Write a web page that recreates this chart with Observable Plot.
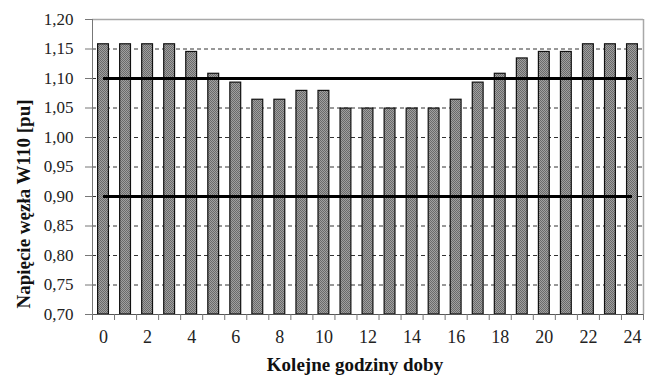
<!DOCTYPE html>
<html>
<head>
<meta charset="utf-8">
<script src="https://cdn.jsdelivr.net/npm/d3@7"></script>
<script src="https://cdn.jsdelivr.net/npm/@observablehq/plot@0.6"></script>
<style>
  html, body { margin: 0; padding: 0; background: #fff; }
  svg { display: block; }
</style>
</head>
<body>
<div id="chart"></div>
<script>
const hours = [0,1,2,3,4,5,6,7,8,9,10,11,12,13,14,15,16,17,18,19,20,21,22,23,24];
const voltage = [1.158,1.158,1.158,1.158,1.145,1.108,1.093,1.064,1.064,1.079,1.079,1.049,1.049,1.049,1.049,1.049,1.064,1.093,1.108,1.134,1.145,1.145,1.158,1.158,1.158];
const limits = [1.10, 0.90];
const yTicks = [0.70,0.75,0.80,0.85,0.90,0.95,1.00,1.05,1.10,1.15,1.20];
const xLabelTicks = [0,2,4,6,8,10,12,14,16,18,20,22,24];
const yTitle = "Napięcie węzła W110 [pu]";
const xTitle = "Kolejne godziny doby";

const data = hours.map((h, i) => ({h, v: voltage[i]}));
const boundaries = hours.map(h => h - 0.5).concat([hours[hours.length - 1] + 0.5]);
const xMin = boundaries[0], xMax = boundaries[boundaries.length - 1];
const yMin = yTicks[0], yMax = yTicks[yTicks.length - 1];
const fmt = d => d.toFixed(2).replace(".", ",");
const serif = "'Liberation Serif', 'Times New Roman', serif";

const chart = Plot.plot({
  width: 645,
  height: 376,
  marginLeft: 92,
  marginRight: 2,
  marginTop: 19,
  marginBottom: 62,
  style: {fontFamily: serif, fontSize: "17px", color: "#222", background: "#fff"},
  x: {type: "linear", domain: [xMin, xMax], axis: null, label: null},
  y: {domain: [yMin, yMax], axis: null, label: null},
  marks: [
    Plot.ruleY(yTicks.slice(1, -1), {stroke: "#333", strokeWidth: 1, strokeDasharray: "4,3"}),
    Plot.ruleY([yMax], {stroke: "#a8a8a8", strokeWidth: 1.5}),
    Plot.ruleX([xMax], {stroke: "#a8a8a8", strokeWidth: 1.5}),
    Plot.rectY(data, {
      x1: d => d.h - 0.5, x2: d => d.h + 0.5, y1: yMin, y2: "v",
      insetLeft: 5.6, insetRight: 5.6,
      fill: "url(#chk)", stroke: "#111", strokeWidth: 1.2
    }),
    Plot.ruleY(limits, {x1: hours[0], x2: hours[hours.length - 1], stroke: "#000", strokeWidth: 3}),
    Plot.ruleX([xMin], {stroke: "#777", strokeWidth: 1}),
    Plot.ruleY([yMin], {stroke: "#555", strokeWidth: 1}),
    Plot.axisY(yTicks, {tickSize: 7, tickPadding: 12, tickFormat: fmt, stroke: "#777", fontSize: 17, fill: "#222", fontFamily: serif, label: null}),
    Plot.axisX(boundaries, {tickSize: 6, tickFormat: () => "", stroke: "#777", label: null}),
    Plot.axisX(xLabelTicks, {tickSize: 0, tickPadding: 16, tickFormat: d => String(d), fontSize: 18, fill: "#222", fontFamily: serif, label: null}),
    Plot.text([yTitle], {frameAnchor: "left", textAnchor: "middle", lineAnchor: "middle", dx: -69, dy: 37, rotate: -90, fontWeight: "bold", fontSize: 19, fill: "#111", fontFamily: serif, text: d => d}),
    Plot.text([xTitle], {frameAnchor: "bottom", textAnchor: "middle", lineAnchor: "middle", dx: -13, dy: 50, fontWeight: "bold", fontSize: 19, fill: "#111", fontFamily: serif, text: d => d})
  ]
});

const ns = "http://www.w3.org/2000/svg";
const defs = document.createElementNS(ns, "defs");
defs.innerHTML = '<pattern id="chk" width="2" height="2" patternUnits="userSpaceOnUse">' +
  '<rect width="2" height="2" fill="#a0a0a0"/>' +
  '<rect width="1" height="1" fill="#6a6a6a"/>' +
  '<rect x="1" y="1" width="1" height="1" fill="#6a6a6a"/></pattern>';
chart.insertBefore(defs, chart.firstChild);

document.getElementById("chart").appendChild(chart);
</script>
</body>
</html>
